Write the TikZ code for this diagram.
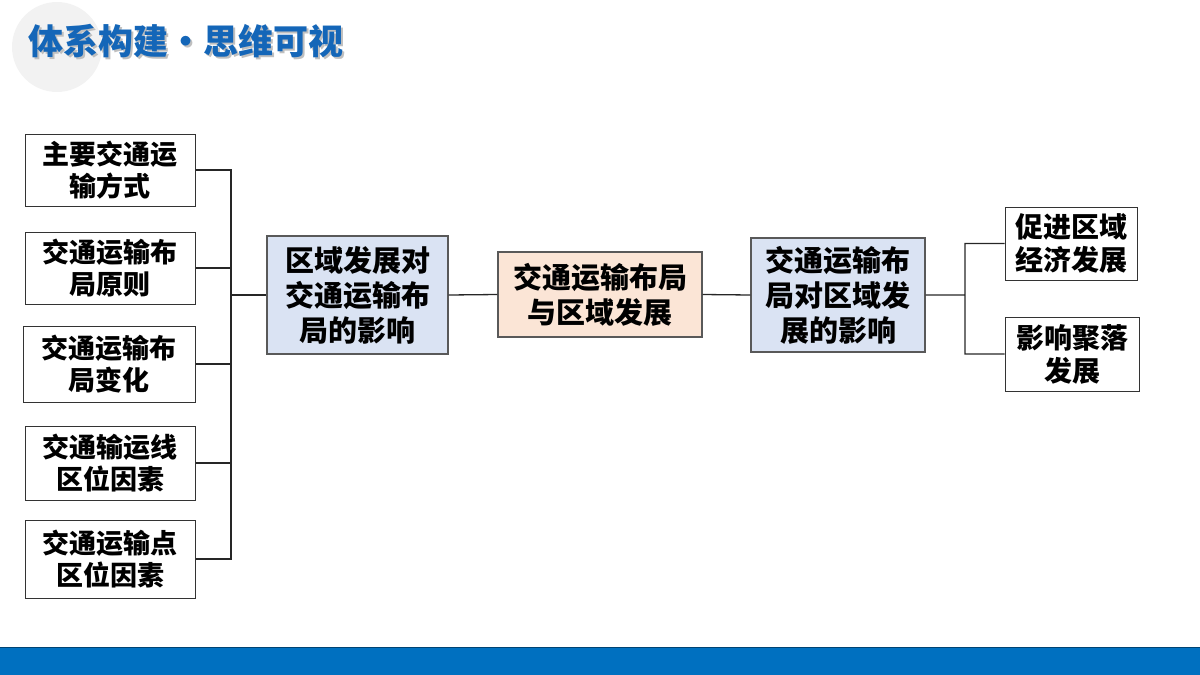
\documentclass[tikz,border=0pt]{standalone}
\usepackage{fontspec}
\newfontfamily\cjk{Noto Sans CJK SC}
\usetikzlibrary{positioning,shadows}
\definecolor{hubblue}{HTML}{DAE3F3}
\definecolor{corepeach}{HTML}{FBE5D6}
\definecolor{titleblue}{HTML}{1466B8}
\definecolor{barblue}{HTML}{0070C0}

\begin{document}
\begin{tikzpicture}[x=1pt, y=-1pt, thick,
  leaf/.style = {draw=black!80, line width=1pt, fill=white, inner sep=0pt, align=center, minimum width=170pt, minimum height=72pt, font=\cjk\bfseries\fontsize{27}{32}\selectfont},
  hub/.style = {draw=black!65, line width=1.3pt, fill=hubblue, inner sep=0pt, align=center, font=\cjk\bfseries\fontsize{29}{35}\selectfont},
  core/.style = {hub, fill=corepeach},
  link/.style = {draw=black!85, line width=1.3pt},
  heading/.style = {anchor=west, inner sep=0pt, font=\cjk\bfseries\fontsize{35}{35}\selectfont}]
  \useasboundingbox (0,0) rectangle (1200,675);

  % Background and title
  \fill[black!5] (57,47) circle (45);
  \fill[barblue] (0,647) rectangle (1200,675);
  \draw[barblue!60!black, line width=1pt] (0,647) -- (1200,647);
  \node[heading, text=black!25] (title_sh) at (30.5,43.5) {体系构建・思维可视};
  \node[heading, text=titleblue] (title) at (28,41) {体系构建・思维可视};

  % Left nodes
  \node[leaf] (l1) at (110,170) {主要交通运\\输方式};
  \node[leaf] (l2) at (110,268) {交通运输布\\局原则};
  \node[leaf, minimum width=172pt, minimum height=76pt] (l3) at (109,364) {交通运输布\\局变化};
  \node[leaf, minimum height=74pt] (l4) at (110,463) {交通输运线\\区位因素};
  \node[leaf, minimum height=78pt] (l5) at (110,559) {交通运输点\\区位因素};

  % Middle nodes
  \node[hub, minimum width=181pt, minimum height=118pt] (hub_l) at (357.5,295) {区域发展对\\交通运输布\\局的影响};
  \node[core, minimum width=204pt, minimum height=85pt] (core) at (600,294.5) {交通运输布局\\与区域发展};
  \node[hub, minimum width=174pt, minimum height=114pt] (hub_r) at (838,295) {交通运输布\\局对区域发\\展的影响};

  % Right nodes
  \node[leaf, minimum width=132pt, minimum height=73pt, font=\cjk\bfseries\fontsize{28}{33}\selectfont] (r1) at (1071,243.5) {促进区域\\经济发展};
  \node[leaf, minimum width=134pt, minimum height=74pt, font=\cjk\bfseries\fontsize{28}{33}\selectfont] (r2) at (1072,354) {影响聚落\\发展};

  % Bus points
  \coordinate (bus_l) at (231,295);
  \coordinate (bus_r) at (965,295);

  % Paths on the left
  \path[link]
        (l1.east) -| (bus_l)
        (l2.east) -| (bus_l)
        (l3.east) -| (bus_l)
        (l4.east) -| (bus_l)
        (l5.east) -| (bus_l)
        (bus_l) -- (hub_l.west);

  % Paths in the middle and on the right
  \path[link]
        (hub_l.east) -- (core.west)
        (core.east) -- (hub_r.west)
        (hub_r.east) -- (bus_r)
        (bus_r) |- (r1.west)
        (bus_r) |- (r2.west);

\end{tikzpicture}
\end{document}
